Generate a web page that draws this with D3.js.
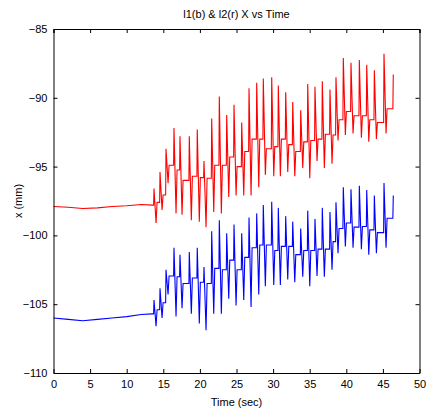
<!DOCTYPE html>
<html lang="en">
<head>
    <meta charset="UTF-8">
    <title>l1(b) & l2(r) X vs Time</title>
    <script src="https://cdn.jsdelivr.net/npm/d3@7/dist/d3.min.js"></script>
    <style>
        body { margin: 0; background: #fff; }
        text { font-family: "Liberation Sans", Arial, sans-serif; fill: #000; }
    </style>
</head>
<body>
<script>
    // x ticks / y ticks
    const xTicks = [0, 5, 10, 15, 20, 25, 30, 35, 40, 45, 50];
    const yTicks = [-110, -105, -100, -95, -90, -85];

    // quiet part before the motion starts (sec, mm)
    const baseT = [0, 2, 4, 6, 8, 10, 12, 13.5];
    const redBase = [-97.9, -97.95, -98.05, -98.0, -97.9, -97.85, -97.75, -97.8];
    const blueBase = [-106.0, -106.1, -106.2, -106.1, -106.0, -105.9, -105.75, -105.7];

    // spike cycles
    const spikeT = [13.73, 14.55, 15.37, 16.46, 17.28, 18.55, 19.64, 20.56, 21.61, 22.65,
        23.66, 24.66, 25.71, 26.71, 27.76, 28.66, 29.81, 30.71, 31.72, 32.68,
        33.77, 34.73, 35.72, 36.72, 37.77, 38.59, 39.59, 40.64, 41.78, 42.79,
        43.83, 45.15];

    const redPeak = [-96.6, -95.4, -93.7, -92.2, -92.8, -92.8, -92.3, -94.6, -91.5, -89.9,
        -91.25, -90.5, -91.8, -89.3, -88.9, -88.6, -88.5, -89.1, -89.6, -90.3,
        -90.9, -89.0, -89.2, -88.8, -89.4, -88.5, -87.1, -87.45, -87.25, -87.6,
        -88.0, -86.8];
    const redTrough = [-99.1, -98.15, -96.2, -98.4, -98.5, -98.9, -99.0, -99.4, -98.3, -98.4,
        -97.2, -97.1, -97.1, -97.1, -96.5, -95.6, -95.7, -95.7, -95.4, -95.7,
        -95.1, -95.85, -94.6, -95.1, -94.8, -93.1, -92.7, -92.6, -92.9, -93.2,
        -93.0, -92.6];
    const redLevel = [-97.6, -97.06, -94.9, -95.25, -96.0, -95.7, -95.8, -95.85, -94.9, -94.9,
        -94.3, -95.0, -93.9, -93.0, -93.0, -93.7, -93.55, -93.0, -93.4, -93.9,
        -93.2, -93.1, -93.0, -92.65, -92.7, -91.6, -91.0, -91.3, -91.3, -91.6,
        -91.8, -90.8];

    const bluePeak = [-104.7, -103.85, -102.5, -100.9, -101.4, -101.2, -100.9, -102.3, -99.7, -98.9,
        -99.85, -99.2, -99.85, -98.7, -98.4, -97.8, -97.55, -98.0, -98.6, -99.0,
        -99.5, -98.2, -98.8, -98.0, -98.3, -97.6, -96.5, -96.65, -96.4, -96.7,
        -97.1, -96.2];
    const blueTrough = [-106.6, -106.0, -104.3, -105.9, -105.3, -105.7, -106.4, -106.9, -105.7, -105.7,
        -104.6, -105.1, -104.7, -105.2, -104.3, -103.7, -103.6, -103.6, -103.2, -103.4,
        -103.0, -103.7, -102.95, -103.0, -102.5, -101.3, -100.8, -100.9, -101.0, -101.4,
        -101.3, -100.9];
    const blueLevel = [-105.4, -104.9, -102.95, -103.0, -103.5, -103.1, -103.4, -103.5, -102.4, -102.5,
        -101.8, -102.5, -101.6, -100.9, -100.7, -100.7, -101.1, -100.8, -100.8, -101.4,
        -101.1, -101.1, -101.0, -101.0, -100.45, -99.5, -99.1, -99.4, -99.35, -99.6,
        -99.8, -98.75];

    const endT = 46.42;
    const redEnd = -88.3;
    const blueEnd = -97.1;

    const W = 428, H = 415;
    const margin = {top: 29, right: 8.5, bottom: 42, left: 53.5};
    const w = W - margin.left - margin.right;
    const h = H - margin.top - margin.bottom;

    const svg = d3.select('body').append('svg')
        .attr('width', W)
        .attr('height', H);

    const x = d3.scaleLinear().domain([0, 50]).range([0, w]);
    const y = d3.scaleLinear().domain([-110, -85]).range([h, 0]);

    const g = svg.append('g')
        .attr('transform', 'translate(' + margin.left + ',' + margin.top + ')');

    // turn the cycle tables into a polyline
    function trace(base, peak, trough, level, endV) {
        let pts = baseT.map((t, i) => [t, base[i]]);
        let prev = base[base.length - 1];
        spikeT.forEach((t, i) => {
            pts.push([t - 0.05, prev]);
            pts.push([t, peak[i]]);
            pts.push([t + 0.28, trough[i]]);
            pts.push([t + 0.42, level[i]]);
            prev = level[i];
        });
        pts.push([endT - 0.06, prev]);
        pts.push([endT, endV]);
        return pts;
    }

    const line = d3.line()
        .x(d => x(d[0]))
        .y(d => y(d[1]));

    g.append('path')
        .datum(trace(blueBase, bluePeak, blueTrough, blueLevel, blueEnd))
        .attr('fill', 'none')
        .attr('stroke', '#0000ff')
        .attr('stroke-width', 1.1)
        .attr('d', line);

    g.append('path')
        .datum(trace(redBase, redPeak, redTrough, redLevel, redEnd))
        .attr('fill', 'none')
        .attr('stroke', '#ff0000')
        .attr('stroke-width', 1.1)
        .attr('d', line);

    // matlab style box with inward ticks on all sides
    const tl = 4;
    const xAxis = d3.axisBottom(x).tickValues(xTicks).tickSizeInner(-tl).tickSizeOuter(0).tickPadding(7);
    const yAxis = d3.axisLeft(y).tickValues(yTicks).tickSizeInner(-tl).tickSizeOuter(0).tickPadding(6);

    g.append('g').attr('transform', 'translate(0,' + h + ')').call(xAxis);
    g.append('g').call(yAxis);
    g.append('g').call(d3.axisTop(x).tickValues(xTicks).tickSize(-tl).tickFormat(''));
    g.append('g').attr('transform', 'translate(' + w + ',0)')
        .call(d3.axisRight(y).tickValues(yTicks).tickSize(-tl).tickFormat(''));

    g.selectAll('.domain').attr('stroke', '#000').attr('stroke-width', 1);
    g.selectAll('.tick line').attr('stroke', '#000');
    g.selectAll('.tick text')
        .style('font-family', '"Liberation Sans", Arial, sans-serif')
        .style('font-size', '11px');

    // title and labels
    svg.append('text')
        .attr('x', margin.left + w / 2)
        .attr('y', 18)
        .attr('text-anchor', 'middle')
        .style('font-size', '11px')
        .text('l1(b) & l2(r) X vs Time');

    svg.append('text')
        .attr('x', margin.left + w / 2)
        .attr('y', 406)
        .attr('text-anchor', 'middle')
        .style('font-size', '11px')
        .text('Time (sec)');

    svg.append('text')
        .attr('transform', 'translate(22,' + (margin.top + h / 2) + ') rotate(-90)')
        .attr('text-anchor', 'middle')
        .style('font-size', '11px')
        .text('x (mm)');
</script>
</body>
</html>
